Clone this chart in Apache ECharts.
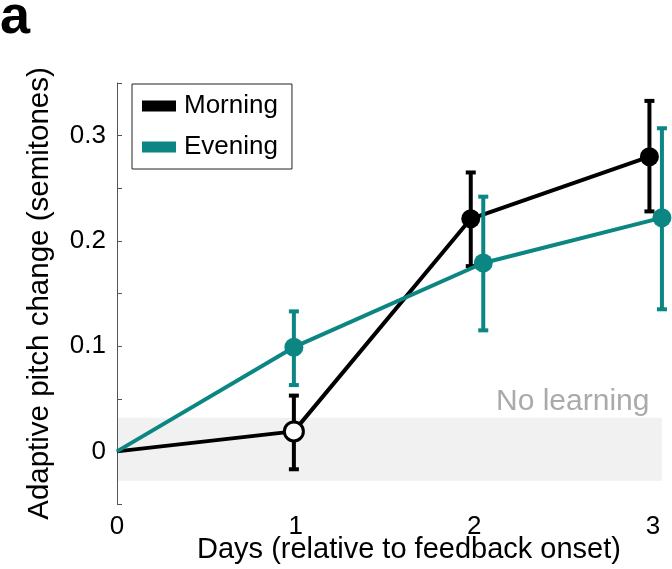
<!DOCTYPE html>
<html><head><meta charset="utf-8">
<script src="https://cdn.jsdelivr.net/npm/echarts@6/dist/echarts.min.js"></script>
<style>html,body{margin:0;padding:0;background:#fff}#c{width:672px;height:569px}</style>
</head><body><div id="c"></div>
<script>
// ---- data ----
const xTickLabels = ['0', '1', '2', '3'];
const morningX = [0, 0.99, 1.98, 2.98];
const morningY = [0, 0.019, 0.221, 0.280];
const morningLow = [null, -0.017, 0.176, 0.228];
const morningHigh = [null, 0.053, 0.265, 0.333];
const eveningX = [0, 0.99, 2.05, 3.05];
const eveningY = [0, 0.099, 0.179, 0.222];
const eveningLow = [null, 0.063, 0.115, 0.135];
const eveningHigh = [null, 0.133, 0.242, 0.307];
const bandLow = -0.028, bandHigh = 0.032;
const bandXStart = 0, bandXEnd = 3.05;
const noLearningLabel = 'No learning';
const noLearningPos = [2.98, 0.047];

const FONT = "'Liberation Sans', Arial, sans-serif";
const BLACK = '#000000';
const TEAL = '#0b8682';

function errData(xs, lo, hi) {
  const out = [];
  for (let i = 0; i < xs.length; i++) if (lo[i] !== null) out.push([xs[i], lo[i], hi[i]]);
  return out;
}
function errSeries(name, color, data, z) {
  return {
    type: 'custom', name: name, z: z, silent: true, clip: false,
    data: data,
    renderItem: function (params, api) {
      const x = api.value(0);
      const lo = api.coord([x, api.value(1)]);
      const hi = api.coord([x, api.value(2)]);
      const cw = 5;
      const style = { stroke: color, lineWidth: 4, fill: null };
      return { type: 'group', children: [
        { type: 'line', shape: { x1: lo[0], y1: lo[1], x2: hi[0], y2: hi[1] }, style: style },
        { type: 'line', shape: { x1: lo[0] - cw, y1: lo[1], x2: lo[0] + cw, y2: lo[1] }, style: style },
        { type: 'line', shape: { x1: hi[0] - cw, y1: hi[1], x2: hi[0] + cw, y2: hi[1] }, style: style }
      ]};
    }
  };
}
function lineData(xs, ys, openIdx) {
  return xs.map(function (x, i) {
    const item = { value: [x, ys[i]] };
    if (i === 0) item.symbol = 'none';
    if (i === openIdx) item.itemStyle = { color: '#ffffff', borderColor: BLACK, borderWidth: 3 };
    return item;
  });
}

const chart = echarts.init(document.getElementById('c'), null, { renderer: 'canvas' });
chart.setOption({
  animation: false,
  backgroundColor: '#ffffff',
  title: { text: 'a', left: 0, top: -9, padding: 0,
    textStyle: { fontFamily: FONT, fontSize: 54, fontWeight: 'bold', color: '#000' } },
  grid: { left: 117, right: 19, top: 83, bottom: 65, containLabel: false, outerBoundsMode: 'none' },
  legend: {
    data: ['Morning', 'Evening'], orient: 'vertical', left: 132, top: 84,
    padding: [9, 14, 9, 10], itemGap: 15, itemWidth: 34, itemHeight: 11,
    borderColor: '#222', borderWidth: 1, icon: 'rect',
    textStyle: { fontFamily: FONT, fontSize: 26, color: '#000', padding: [0, 0, 0, 3] }
  },
  xAxis: {
    type: 'value', min: 0, max: 3, interval: 1,
    name: 'Days (relative to feedback onset)', nameLocation: 'middle', nameGap: 31,
    nameMoveOverlap: false,
    nameTextStyle: { fontFamily: FONT, fontSize: 29, color: '#000', padding: [0, 0, 0, 48] },
    axisLine: { lineStyle: { color: '#555', width: 1 } },
    axisTick: { inside: true, length: 5, lineStyle: { color: '#555' } },
    axisLabel: { fontFamily: FONT, fontSize: 26, color: '#000', margin: 10,
      formatter: function (v) { return xTickLabels[Math.round(v)]; } },
    splitLine: { show: false }
  },
  yAxis: {
    type: 'value', min: -0.05, max: 0.35, interval: 0.05,
    name: 'Adaptive pitch change (semitones)', nameLocation: 'middle', nameGap: 62,
    nameMoveOverlap: false,
    nameTextStyle: { fontFamily: FONT, fontSize: 29.5, color: '#000' },
    axisLine: { show: true, lineStyle: { color: '#555', width: 1 } },
    axisTick: { show: true, inside: true, length: 5, lineStyle: { color: '#555' } },
    axisLabel: { fontFamily: FONT, fontSize: 26, color: '#000', margin: 11,
      showMinLabel: true, showMaxLabel: true,
      formatter: function (v) {
        const t = Math.round(v * 100);
        if (t % 10 !== 0 || t < 0 || t > 30) return '';
        return t === 0 ? '0' : (t / 100).toFixed(1);
      } },
    splitLine: { show: false }
  },
  series: [
    {
      type: 'custom', name: 'band', z: 1, silent: true, clip: false,
      data: [[bandXStart, bandLow, bandXEnd, bandHigh]],
      renderItem: function (params, api) {
        const p1 = api.coord([api.value(0), api.value(3)]);
        const p2 = api.coord([api.value(2), api.value(1)]);
        return { type: 'rect', shape: { x: p1[0] + 1, y: p1[1], width: p2[0] - p1[0] - 1, height: p2[1] - p1[1] },
          style: { fill: '#f1f1f1' } };
      }
    },
    {
      type: 'custom', name: 'label', z: 1, silent: true, clip: false,
      data: [noLearningPos],
      renderItem: function (params, api) {
        const p = api.coord([api.value(0), api.value(1)]);
        return { type: 'text', x: p[0], y: p[1],
          style: { text: noLearningLabel, fill: '#aaaaaa', font: '30px ' + FONT, align: 'right', verticalAlign: 'middle' } };
      }
    },
    errSeries('MorningErr', BLACK, errData(morningX, morningLow, morningHigh), 2),
    {
      type: 'line', name: 'Morning', z: 3, clip: false, data: lineData(morningX, morningY, 1),
      symbol: 'circle', symbolSize: 19, showSymbol: true,
      lineStyle: { color: BLACK, width: 4 }, itemStyle: { color: BLACK, borderWidth: 0 },
      emphasis: { disabled: true }
    },
    errSeries('EveningErr', TEAL, errData(eveningX, eveningLow, eveningHigh), 4),
    {
      type: 'line', name: 'Evening', z: 5, clip: false, data: lineData(eveningX, eveningY, -1),
      symbol: 'circle', symbolSize: 19, showSymbol: true,
      lineStyle: { color: TEAL, width: 4 }, itemStyle: { color: TEAL, borderWidth: 0 },
      emphasis: { disabled: true }
    }
  ]
});
</script></body></html>
